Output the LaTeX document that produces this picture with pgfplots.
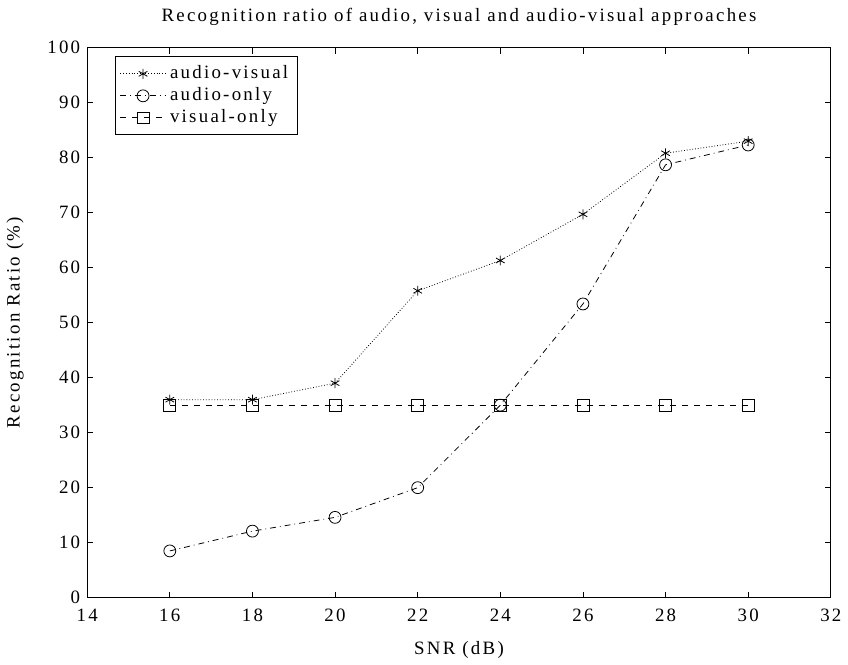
\documentclass[border=0pt]{standalone}
\usepackage{pgfplots}
\pgfplotsset{compat=1.18}
\usepackage{fontspec}
\setmainfont{Liberation Serif}[LetterSpace=12]
\begin{document}
\begin{tikzpicture}
\begin{axis}[
  scale only axis,
  width=374.5pt, height=277pt,
  xmin=14, xmax=32, ymin=0, ymax=100,
  xtick={14,16,...,32}, ytick={0,10,...,100},
  tick align=inside,
  major tick length=3pt,
  every tick/.style={black, thin},
  axis line style={thin},
  title={Recognition ratio of audio, visual and audio-visual approaches},
  title style={font=\fontsize{9.5}{11}\selectfont, yshift=1.5pt},
  xlabel={SNR (dB)}, ylabel={Recognition Ratio (\%)},
  xlabel style={font=\fontsize{9.5}{11}\selectfont, yshift=-3pt},
  ylabel style={font=\fontsize{9.5}{11}\selectfont, yshift=5pt},
  tick label style={font=\fontsize{9.5}{11}\selectfont},
  xticklabel style={yshift=-2pt},
  /pgf/number format/assume math mode=true,
  legend style={at={(0.037,0.984)}, anchor=north west, draw=black, font=\fontsize{9.5}{11}\selectfont, row sep=-1pt, inner sep=2.5pt},
  legend cell align=left,
  legend image code/.code={\draw[mark repeat=2,mark phase=2,#1] plot coordinates {(0cm,0cm) (0.4cm,0cm) (0.8cm,0cm)};},
]
\addplot[black, thin, densely dotted, mark=asterisk, mark size=2.5pt, mark options={solid}] coordinates {
(16,36) (18,36) (20,39) (22,55.8) (24,61.3) (26,69.7) (28,80.8) (30,83)};
\addlegendentry{audio-visual}
\addplot[black, thin, dash dot, mark=o, mark size=3pt, mark options={solid}] coordinates {
(16,8.5) (18,12.1) (20,14.6) (22,20) (24,35) (26,53.4) (28,78.7) (30,82.3)};
\addlegendentry{audio-only}
\addplot[black, thin, dashed, mark=square, mark size=3pt, mark options={solid}] coordinates {
(16,35) (18,35) (20,35) (22,35) (24,35) (26,35) (28,35) (30,35)};
\addlegendentry{visual-only}
\end{axis}
\path ([xshift=-43.5pt,yshift=-29pt]current axis.south west) rectangle ([xshift=6pt,yshift=24pt]current axis.north east);
\end{tikzpicture}
\end{document}
